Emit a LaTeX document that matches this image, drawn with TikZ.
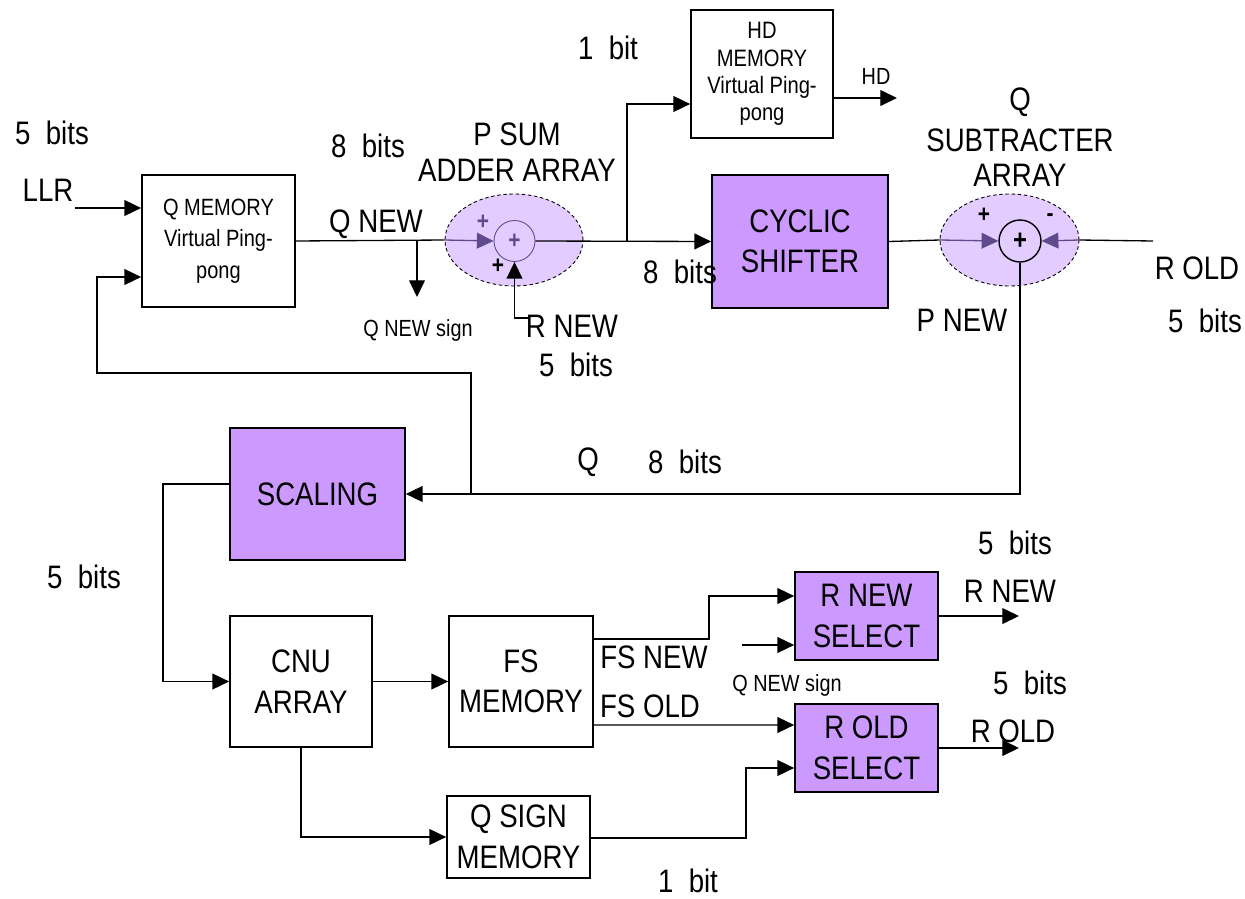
\documentclass[tikz,border=0pt]{standalone}
\usepackage{fontspec}
\setmainfont[FakeStretch=0.85]{Liberation Sans}
\usetikzlibrary{arrows.meta,shapes.geometric,calc}
\definecolor{boxpurple}{HTML}{CC99FF}
\definecolor{elfill}{HTML}{E3CCFF}
\definecolor{darkpurple}{HTML}{5F4B8B}
\begin{document}
\begin{tikzpicture}[x=0.02cm,y=-0.02cm,
  box/.style={draw, line width=1pt, align=center, inner sep=0pt, font=\fontsize{18.5}{23}\selectfont},
  pbox/.style={box, fill=boxpurple},
  smallbox/.style={box, font=\fontsize{13.4}{18}\selectfont},
  lbl/.style={font=\fontsize{18.5}{21}\selectfont, inner sep=0pt, align=center},
  slbl/.style={font=\fontsize{13.3}{15}\selectfont, inner sep=0pt},
  conn/.style={line width=0.75pt},
  arr/.style={conn, -{Triangle[length=9.5pt,width=9pt]}},
  parr/.style={conn, darkpurple, -{Triangle[length=9.5pt,width=9pt]}},
  sumell/.style={ellipse, draw, dashed, dash pattern=on 2pt off 1.5pt, line width=0.5pt, fill=elfill, inner sep=0pt},
  sgn/.style={font=\fontsize{14}{14}\selectfont\bfseries, inner sep=0pt}
]
\useasboundingbox (0,0) rectangle (1245,899);

% boxes
\node[smallbox, minimum width=3.06cm, minimum height=2.64cm] (qmem) at (218.5,241) {Q MEMORY\\Virtual Ping-\\pong};
\node[box, minimum width=2.84cm, minimum height=2.56cm, font=\fontsize{13.5}{15.5}\selectfont] (hdmem) at (762,74) {HD\\MEMORY\\Virtual Ping-\\pong};
\node[pbox, minimum width=3.52cm, minimum height=2.66cm] (shifter) at (800,241.5) {CYCLIC\\SHIFTER};
\node[pbox, minimum width=3.5cm, minimum height=2.64cm] (scaling) at (317.5,494) {SCALING};
\node[box, minimum width=2.84cm, minimum height=2.62cm] (cnu) at (301,681.5) {CNU\\ARRAY};
\node[box, minimum width=2.88cm, minimum height=2.62cm] (fsmem) at (521,681.5) {FS\\MEMORY};
\node[box, minimum width=2.86cm, minimum height=1.64cm] (qsign) at (518.5,837) {Q SIGN\\MEMORY};
\node[pbox, minimum width=2.86cm, minimum height=1.76cm] (rnew) at (866.5,616) {R NEW\\SELECT};
\node[pbox, minimum width=2.86cm, minimum height=1.76cm] (rold) at (866.5,748) {R OLD\\SELECT};

% adder ellipses
\node[sumell, minimum width=2.76cm, minimum height=1.84cm] (psum) at (514,240) {};
\node[circle, draw=darkpurple, line width=0.5pt, minimum size=0.82cm, inner sep=0pt] (padd) at (514.5,241) {};
\node[sgn, darkpurple] at (padd) {+};
\node[sumell, minimum width=2.78cm, minimum height=1.84cm] (qsub) at (1009.5,240) {};
\node[circle, draw, line width=0.8pt, minimum size=0.84cm, inner sep=0pt] (qadd) at (1020,241) {};
\node[sgn, font=\fontsize{16}{16}\selectfont\bfseries] at (qadd) {+};
\node[sgn, darkpurple] at (483,222) {+};
\node[sgn] at (498,266) {+};
\node[sgn] at (984,215) {+};
\node[sgn] at (1050,218) {-};

% coordinates
\coordinate (llr0) at (75,208);
\coordinate (qn) at (417,241);
\coordinate (qnend) at (417,297);
\coordinate (rn) at (528,318);
\coordinate (j1) at (627,241);
\coordinate (hdout) at (897,98);
\coordinate (roldin) at (1153,241);
\coordinate (j2) at (471,494);
\coordinate (fb) at (97,373);
\coordinate (sb) at (163,484);
\coordinate (fsb) at (709,639);
\coordinate (qns2) at (742,645);
\coordinate (qsb) at (746,838);
\coordinate (rnout) at (1019,616);
\coordinate (roldout) at (1019,748);

% connectors
\draw[arr] (llr0) -- (llr0 -| qmem.west);
\draw[conn] (qmem.east) -- (psum.west);
\draw[parr] (psum.west) -- (padd.west);
\draw[arr] (qn) -- (qnend);
\draw[arr] (rn) -- (rn -| padd.south) -- (padd.south);
\draw[arr] (padd.east) -- (shifter.west);
\draw[arr] (j1) |- ($(hdmem.west)+(0,30)$);
\draw[arr] ($(hdmem.east)+(0,24)$) -- (hdout);
\draw[conn] (shifter.east) -- (qsub.west);
\draw[parr] (qsub.west) -- (qadd.west);
\draw[conn] (roldin) -- (qsub.east);
\draw[parr] (qsub.east) -- (qadd.east);
\draw[arr] (qadd.south) |- (scaling.east);
\draw[arr] (j2) |- (fb) |- ($(qmem.west)+(0,36)$);
\draw[arr] (scaling.west |- sb) -- (sb) |- (cnu.west);
\draw[arr] (cnu) -- (fsmem);
\draw[arr] (cnu.south) |- (qsign.west);
\draw[arr] (fsmem.east |- fsb) -- (fsb) |- ($(rnew.west)+(0,-20)$);
\draw[arr] (qns2) -- (qns2 -| rnew.west);
\draw[arr] ($(fsmem.east)+(0,43.5)$) -- ($(rold.west)+(0,-23)$);
\draw[arr] (qsign.east |- qsb) -- (qsb) |- ($(rold.west)+(0,20)$);
\draw[arr] (rnew.east) -- (rnout);
\draw[arr] (rold.east) -- (roldout);

% labels
\node[lbl] at (52,133) {5\ \ bits};
\node[lbl] at (48,190) {LLR};
\node[lbl] at (368,146) {8\ \ bits};
\node[lbl] at (517,134) {P SUM};
\node[lbl] at (517,170) {ADDER ARRAY};
\node[lbl] at (608,48) {1\ \ bit};
\node[lbl] at (376,224) {Q NEW};
\node[slbl] at (418,330) {Q NEW sign};
\node[lbl] at (572,326) {R NEW};
\node[lbl] at (576,365) {5\ \ bits};
\node[lbl] at (680,272) {8\ \ bits};
\node[slbl] at (876,76) {HD};
\node[lbl] at (1020,102) {Q};
\node[lbl] at (1020,140) {SUBTRACTER};
\node[lbl] at (1020,175) {ARRAY};
\node[lbl] at (1197,268) {R OLD};
\node[lbl] at (1205,321) {5\ \ bits};
\node[lbl] at (962,320) {P NEW};
\node[lbl] at (588,462) {Q};
\node[lbl] at (685,462) {8\ \ bits};
\node[lbl] at (84,577) {5\ \ bits};
\node[lbl] at (654,657) {FS NEW};
\node[lbl] at (650,706) {FS OLD};
\node[slbl] at (787,685) {Q NEW sign};
\node[lbl] at (1015,543) {5\ \ bits};
\node[lbl] at (1010,591) {R NEW};
\node[lbl] at (1030,683) {5\ \ bits};
\node[lbl] at (1013,731) {R OLD};
\node[lbl] at (688,881) {1\ \ bit};
\end{tikzpicture}
\end{document}
